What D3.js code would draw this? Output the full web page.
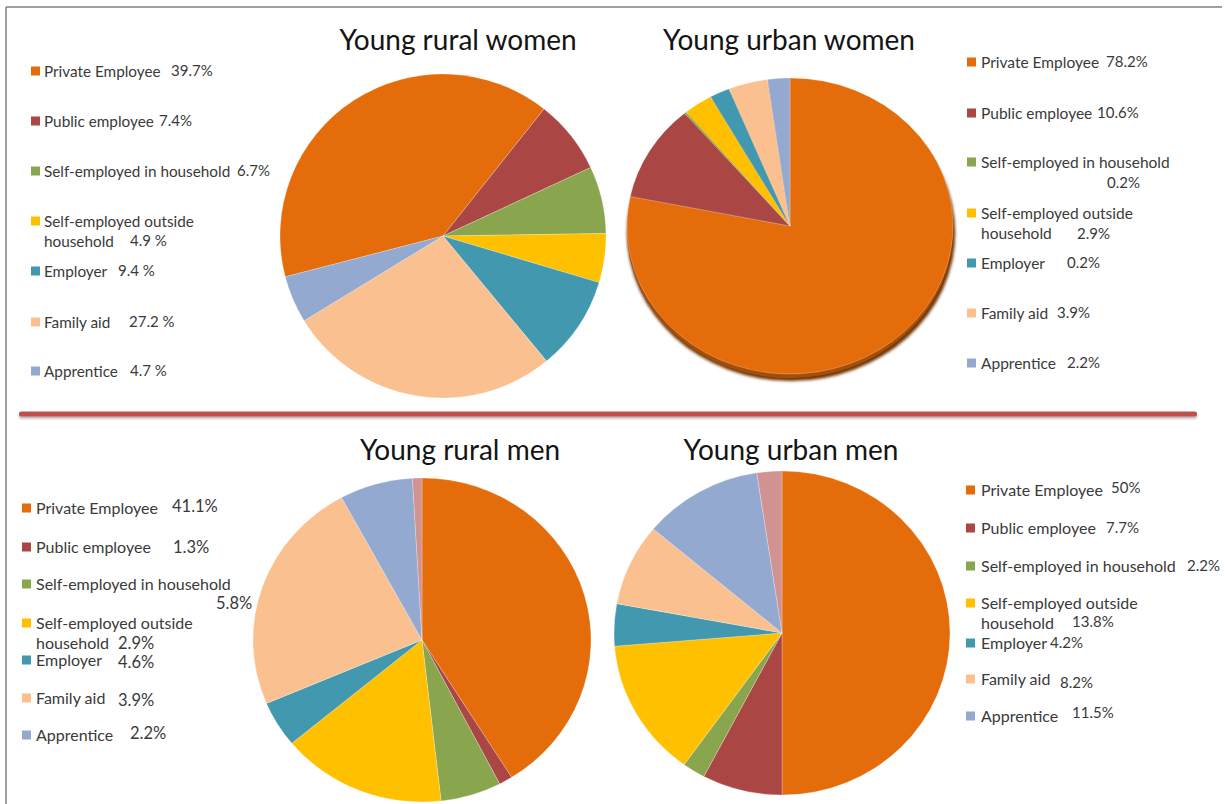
<!DOCTYPE html>
<html>
<head>
<meta charset="utf-8">
<script src="https://cdn.jsdelivr.net/npm/d3@7"></script>
<style>
  html, body { margin: 0; padding: 0; background: #fff; }
  svg { display: block; }
  text { font-family: Lato, "Open Sans", sans-serif; }
</style>
</head>
<body>
<svg id="chart" width="1225" height="804"></svg>
<script>
// ---------------- DATA ----------------
const categories = ["Private Employee", "Public employee", "Self-employed in household",
  "Self-employed outside household", "Employer", "Family aid", "Apprentice", "Other (unlabelled)"];

// slice shares as drawn in each pie
const ruralWomen = [39.7, 7.4, 6.7, 4.9, 9.4, 27.2, 4.7, 0];
const urbanWomen = [78.2, 10.6, 0.2, 2.9, 2.0, 3.9, 2.2, 0];
const ruralMen   = [41.1, 1.3, 5.8, 15.8, 4.6, 23.5, 7.0, 0.9];
const urbanMen   = [50.0, 7.7, 2.2, 13.8, 4.2, 8.2, 11.5, 2.4];

// value labels as printed in each legend
const ruralWomenLabels = ["39.7%", "7.4%", "6.7%", "4.9 %", "9.4 %", "27.2 %", "4.7 %"];
const urbanWomenLabels = ["78.2%", "10.6%", "0.2%", "2.9%", "0.2%", "3.9%", "2.2%"];
const ruralMenLabels   = ["41.1%", "1.3%", "5.8%", "2.9%", "4.6%", "3.9%", "2.2%"];
const urbanMenLabels   = ["50%", "7.7%", "2.2%", "13.8%", "4.2%", "8.2%", "11.5%"];

const legendNames = [["Private Employee"], ["Public employee"], ["Self-employed in household"],
  ["Self-employed outside", "household"], ["Employer"], ["Family aid"], ["Apprentice"]];

const titles = ["Young rural women", "Young urban women", "Young rural men", "Young urban men"];

// ---------------- STYLE / LAYOUT ----------------
const colors = ["#E46C0A", "#AA4643", "#89A54E", "#FFC000", "#4198AF", "#FAC090", "#93A9CF", "#D19392"];
const color = d3.scaleOrdinal().domain(categories).range(colors);

const svg = d3.select("#chart");
const defs = svg.append("defs");
const sh = defs.append("filter").attr("id", "lineShadow").attr("filterUnits", "userSpaceOnUse")
  .attr("x", 0).attr("y", 395).attr("width", 1225).attr("height", 40);
sh.append("feDropShadow").attr("dx", 0).attr("dy", 2).attr("stdDeviation", 1.2).attr("flood-color", "#000").attr("flood-opacity", 0.3);
const ps = defs.append("filter").attr("id", "pieShadow").attr("x", "-10%").attr("y", "-10%").attr("width", "120%").attr("height", "125%");
ps.append("feGaussianBlur").attr("stdDeviation", 1.5);

// frame
svg.append("line").attr("x1", 6).attr("y1", 7).attr("x2", 1222).attr("y2", 7).attr("stroke", "#808080").attr("stroke-width", 1.5);
svg.append("line").attr("x1", 6).attr("y1", 7).attr("x2", 6).attr("y2", 804).attr("stroke", "#808080").attr("stroke-width", 1.5);

// divider
svg.append("rect").attr("x", 19).attr("y", 411.5).attr("width", 1178).attr("height", 5).attr("rx", 2)
  .attr("fill", "#C0504D").attr("filter", "url(#lineShadow)");

const panels = [
  { values: ruralWomen, labels: ruralWomenLabels, title: titles[0], tx: 458, ty: 50,
    cx: 443, cy: 236, rx: 163, ry: 162, start: -104.6, depth: 0,
    sqX: 31, textX: 44, fs: 15.3, vfs: 15,
    rows: [71, 121, 171, 221, 271, 322, 371],
    vals: [[171, 71], [159, 121], [237, 171], [130, 241], [118, 271], [129, 322], [130, 371]] },
  { values: urbanWomen, labels: urbanWomenLabels, title: titles[1], tx: 789, ty: 50,
    cx: 790, cy: 226, rx: 163, ry: 148, start: 0, depth: 7,
    sqX: 967, textX: 981, fs: 15.5, vfs: 15,
    rows: [62, 113, 162, 213, 263, 313, 363],
    vals: [[1106, 62], [1097, 113], [1107, 183], [1077, 234], [1067, 263], [1057, 313], [1067, 363]] },
  { values: ruralMen, labels: ruralMenLabels, title: titles[2], tx: 460, ty: 460,
    cx: 422, cy: 640, rx: 169, ry: 162, start: 0, depth: 0,
    sqX: 22, textX: 36, fs: 16, vfs: 16.5,
    rows: [508, 547, 584, 623, 660, 698, 735],
    vals: [[172, 506], [173, 547], [216, 603], [118, 643], [118, 662], [118, 700], [130, 733]] },
  { values: urbanMen, labels: urbanMenLabels, title: titles[3], tx: 791, ty: 460,
    cx: 782, cy: 633, rx: 168, ry: 162, start: 0, depth: 0,
    sqX: 966, textX: 981, fs: 16, vfs: 15,
    rows: [490, 528, 566, 603, 643, 679, 716],
    vals: [[1111, 488], [1106, 528], [1187, 566], [1072, 622], [1050, 643], [1060, 683], [1072, 713]] }
];

panels.forEach(p => {
  // title
  svg.append("text").attr("x", p.tx).attr("y", p.ty).attr("text-anchor", "middle")
    .attr("font-size", 28).attr("fill", "#141414").text(p.title);

  const data = categories.map((c, i) => ({ cat: c, v: p.values[i] }));
  const pie = d3.pie().sort(null).value(d => d.v)
    .startAngle(p.start * Math.PI / 180).endAngle(p.start * Math.PI / 180 + 2 * Math.PI);
  const arcs = pie(data);
  const arc = d3.arc().innerRadius(0).outerRadius(p.ry);

  const g = svg.append("g").attr("transform", `translate(${p.cx},${p.cy}) scale(${p.rx / p.ry},1)`);
  if (p.depth > 0) {
    g.append("ellipse").attr("cx", 1).attr("cy", p.depth).attr("rx", p.ry + 1).attr("ry", p.ry)
      .attr("fill", "#6e3206").attr("filter", "url(#pieShadow)");
    g.append("ellipse").attr("cx", 0).attr("cy", p.depth * 0.6).attr("rx", p.ry).attr("ry", p.ry)
      .attr("fill", "#A64E08");
  }
  g.selectAll("path").data(arcs.filter(a => a.data.v > 0)).join("path")
    .attr("d", arc).attr("fill", d => color(d.data.cat))
    .attr("stroke", "#fff").attr("stroke-width", 0.4).attr("stroke-opacity", 0.6);

  // legend
  legendNames.forEach((lines, i) => {
    const y = p.rows[i];
    svg.append("rect").attr("x", p.sqX).attr("y", y - 4.5).attr("width", 9).attr("height", 9)
      .attr("fill", colors[i]);
    lines.forEach((ln, j) => {
      svg.append("text").attr("x", p.textX).attr("y", y + j * 20).attr("dy", "0.36em")
        .attr("font-size", p.fs).attr("fill", "#3a3a3a").text(ln);
    });
    const [vx, vy] = p.vals[i];
    svg.append("text").attr("x", vx).attr("y", vy).attr("dy", "0.36em")
      .attr("font-size", p.vfs).attr("fill", "#3a3a3a").text(p.labels[i]);
  });
});
</script>
</body>
</html>
